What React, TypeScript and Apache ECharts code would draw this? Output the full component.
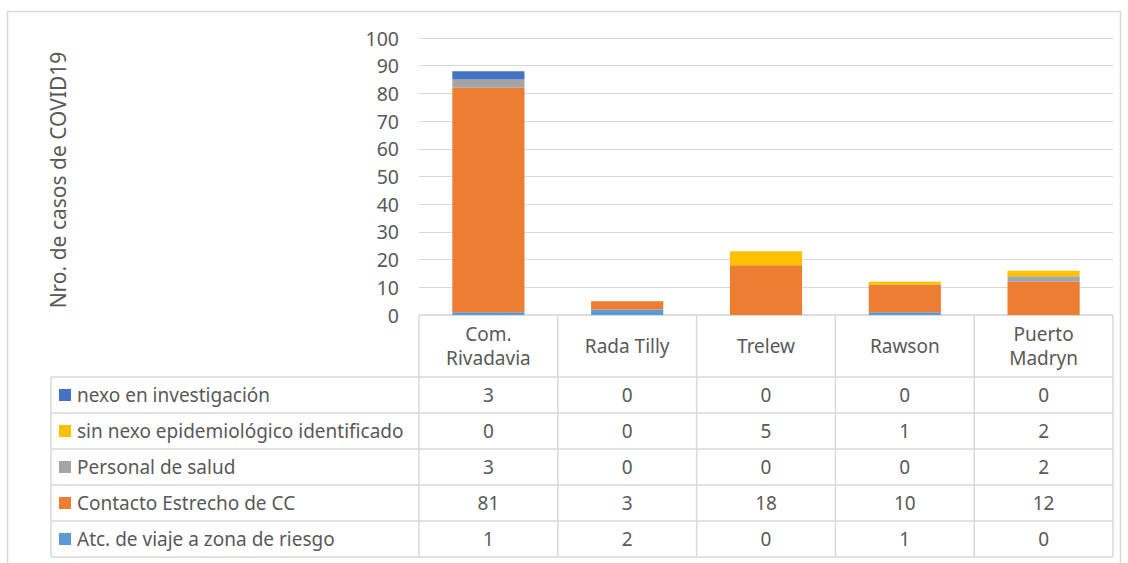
import React, { useEffect, useRef } from "react";
import * as echarts from "echarts";

const categories = ["Com.\nRivadavia", "Rada Tilly", "Trelew", "Rawson", "Puerto\nMadryn"];
const seriesNames = [
  "nexo en investigación",
  "sin nexo epidemiológico identificado",
  "Personal de salud",
  "Contacto Estrecho de CC",
  "Atc. de viaje a zona de riesgo",
];
const seriesColors = ["#4472C4", "#FFC000", "#A5A5A5", "#ED7D31", "#5B9BD5"];
const nexoInvestigacion = [3, 0, 0, 0, 0];
const sinNexo = [0, 0, 5, 1, 2];
const personalSalud = [3, 0, 0, 0, 2];
const contactoEstrecho = [81, 3, 18, 10, 12];
const atcViaje = [1, 2, 0, 1, 0];
const seriesValues = [nexoInvestigacion, sinNexo, personalSalud, contactoEstrecho, atcViaje];
const yTicks = { min: 0, max: 100, interval: 10 };
const yTitle = "Nro. de casos de COVID19";

const FONT = "'Noto Sans', sans-serif";
const TXT = "#595959";
const LINE = "#D9D9D9";

export default function App() {
  const ref = useRef<HTMLDivElement>(null);
  useEffect(() => {
    if (!ref.current) return;
    const chart = echarts.init(ref.current, undefined, { renderer: "svg" });
    const gridLeft = 419;
    const gridRight = 1113;
    const gridTop = 38;
    const gridBottom = 315;
    // stack bottom first
    const order = [4, 3, 2, 1, 0];
    chart.setOption({
      animation: false,
      grid: { left: gridLeft, right: 1128 - gridRight, top: gridTop, bottom: 563 - gridBottom },
      xAxis: {
        type: "category",
        data: categories,
        axisLine: { show: false },
        axisTick: { show: false },
        axisLabel: { show: false },
      },
      yAxis: {
        type: "value",
        min: yTicks.min,
        max: yTicks.max,
        interval: yTicks.interval,
        axisLine: { show: false },
        axisTick: { show: false },
        axisLabel: { color: TXT, fontSize: 19.5, fontFamily: FONT, margin: 20 },
        splitLine: { lineStyle: { color: LINE, width: 1 } },
      },
      series: order.map((i) => ({
        type: "bar",
        name: seriesNames[i],
        stack: "total",
        barWidth: "52%",
        data: seriesValues[i],
        itemStyle: { color: seriesColors[i] },
      })),
    });

    const colW = (gridRight - gridLeft) / categories.length;
    const rowTops = [377, 413, 449, 485, 521];
    const rowH = 36;
    const tableBottom = 557;
    const legendLeft = 51;
    const g: any[] = [];
    const ln = (x1: number, y1: number, x2: number, y2: number) =>
      g.push({ type: "line", shape: { x1, y1, x2, y2 }, style: { stroke: LINE, lineWidth: 1.5 }, silent: true });
    // outer border
    g.push({
      type: "rect",
      shape: { x: 7.5, y: 11.5, width: 1113, height: 560 },
      style: { fill: "none", stroke: LINE, lineWidth: 1.5 },
      silent: true,
    });
    // y title
    g.push({
      type: "text",
      x: 58,
      y: 180,
      rotation: Math.PI / 2,
      style: { text: yTitle, fill: TXT, font: `21px ${FONT}`, textAlign: "center", textVerticalAlign: "middle" },
    });
    // table lines
    ln(gridLeft, gridBottom, gridRight, gridBottom);
    rowTops.forEach((t) => ln(legendLeft, t, gridRight, t));
    ln(legendLeft, tableBottom, gridRight, tableBottom);
    ln(legendLeft, rowTops[0], legendLeft, tableBottom);
    for (let c = 0; c <= categories.length; c++) {
      const x = gridLeft + c * colW;
      ln(x, gridBottom, x, tableBottom);
    }
    // category headers
    categories.forEach((cat, ci) => {
      const cx = chart.convertToPixel({ xAxisIndex: 0 }, ci) as number;
      g.push({
        type: "text",
        x: cx,
        y: (gridBottom + rowTops[0]) / 2,
        style: {
          text: cat,
          fill: TXT,
          font: `19px ${FONT}`,
          lineHeight: 24,
          textAlign: "center",
          textVerticalAlign: "middle",
        },
      });
    });
    // rows
    seriesNames.forEach((name, ri) => {
      const cy = rowTops[ri] + rowH / 2;
      g.push({
        type: "rect",
        shape: { x: 59, y: cy - 6, width: 12, height: 12 },
        style: { fill: seriesColors[ri] },
      });
      g.push({
        type: "text",
        x: 77,
        y: cy,
        style: { text: name, fill: TXT, font: `19px ${FONT}`, textAlign: "left", textVerticalAlign: "middle" },
      });
      seriesValues[ri].forEach((v, ci) => {
        const cx = chart.convertToPixel({ xAxisIndex: 0 }, ci) as number;
        g.push({
          type: "text",
          x: cx,
          y: cy,
          style: { text: String(v), fill: TXT, font: `19px ${FONT}`, textAlign: "center", textVerticalAlign: "middle" },
        });
      });
    });
    chart.setOption({ graphic: { elements: g } });
    return () => chart.dispose();
  }, []);
  return (
    <div
      ref={ref}
      style={{ position: "absolute", left: 0, top: 0, width: 1128, height: 563, background: "#fff" }}
    />
  );
}
